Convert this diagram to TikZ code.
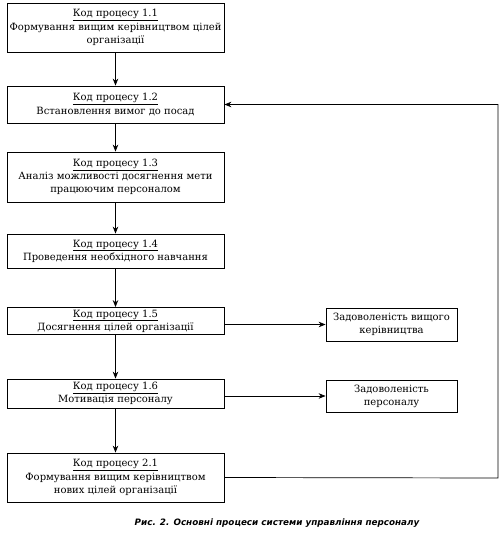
\documentclass[tikz,border=0pt]{standalone}
\usepackage{fontspec}
\setmainfont{DejaVu Serif}
\newfontfamily\capfont{DejaVu Sans}
\usetikzlibrary{arrows.meta}
\begin{document}
\begin{tikzpicture}[x=1pt,y=-1pt,
  box/.style={draw, line width=0.8pt, rectangle, align=center, inner sep=0pt,
    font=\fontsize{10}{13.2}\selectfont},
  conn/.style={line width=0.7pt, -{Stealth[length=7pt,width=5.5pt]}}]
\useasboundingbox (0,0) rectangle (500,541);
\node[box, minimum width=217pt, minimum height=49pt] (b11) at (115.5,27.5)
  {\underline{Код процесу 1.1}\\Формування вищим керівництвом цілей\\організації};
\node[box, minimum width=217pt, minimum height=37pt] (b12) at (115.5,104.5)
  {\underline{Код процесу 1.2}\\Встановлення вимог до посад};
\node[box, minimum width=217pt, minimum height=50pt] (b13) at (115.5,177)
  {\underline{Код процесу 1.3}\\Аналіз можливості досягнення мети\\працюючим персоналом};
\node[box, minimum width=217pt, minimum height=34pt] (b14) at (115.5,251)
  {\underline{Код процесу 1.4}\\Проведення необхідного навчання};
\node[box, minimum width=217pt, minimum height=27pt] (b15) at (115.5,321)
  {\underline{Код процесу 1.5}\\Досягнення цілей організації};
\node[box, minimum width=217pt, minimum height=29pt] (b16) at (115.5,393.5)
  {\underline{Код процесу 1.6}\\Мотивація персоналу};
\node[box, minimum width=217pt, minimum height=49pt] (b21) at (115.5,477.5)
  {\underline{Код процесу 2.1}\\Формування вищим керівництвом\\нових цілей організації};
\node[box, minimum width=131pt, minimum height=33pt] (r1) at (391.5,324.5)
  {Задоволеність вищого\\керівництва};
\node[box, minimum width=131pt, minimum height=32pt] (r2) at (391.5,396)
  {Задоволеність\\персоналу};
\node[font=\capfont\bfseries\itshape\fontsize{8.8}{11}\selectfont] (cap) at (277,523)
  {Рис. 2. Основні процеси системи управління персоналу};
\coordinate (fb) at (498,478);
\draw[conn] (b11) -- (b12);
\draw[conn] (b12) -- (b13);
\draw[conn] (b13) -- (b14);
\draw[conn] (b14) -- (b15);
\draw[conn] (b15) -- (b16);
\draw[conn] (b16) -- (b21);
\draw[conn] (r1.west -| b15.east) -- (r1.west);
\draw[conn] (r2.west -| b16.east) -- (r2.west);
\draw[conn] (b21.east) -- (fb) |- (b12.east);
\end{tikzpicture}
\end{document}
